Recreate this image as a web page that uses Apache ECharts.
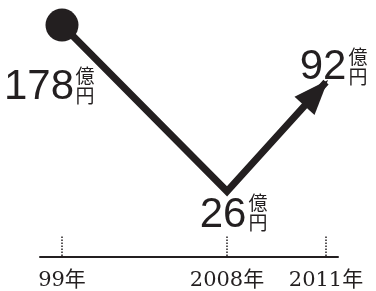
<!DOCTYPE html>
<html lang="ja">
<head>
<meta charset="utf-8" />
<title>売上推移</title>
<style>
  html, body { margin: 0; padding: 0; background: #fff; }
  #chart { width: 376px; height: 291px; }
</style>
</head>
<body>
<div id="chart"></div>
<script src="https://cdn.jsdelivr.net/npm/echarts@6/dist/echarts.min.js"></script>
<script>
// 横軸: 年 (空欄は目盛の間隔合わせ)
const years = ['99年', '', '', '', '', '2008年', '', '', '2011年'];
// 金額 (億円)
const amounts = [178, null, null, null, null, 26, null, null, 92];
const unitText = '億\n円';

const ink = '#231f20';

// ラベル位置 (点からのずれ)
const numOffsets = { 0: [-23, 62], 5: [-4, 24], 8: [-3, -15] };
const unitOffsets = { 0: [23, 61], 5: [31, 21], 8: [32, -15] };
const arrowSize = [27, 35];

const firstIdx = amounts.findIndex(v => v != null);
const minIdx = amounts.indexOf(Math.min.apply(null, amounts.filter(v => v != null)));
const lastIdx = amounts.length - 1;

const chart = echarts.init(document.getElementById('chart'));

function buildLineData(arrow) {
  return amounts.map(function (v, i) {
    if (v == null) return null;
    const item = { value: v, symbol: 'circle', symbolSize: i === firstIdx ? 33 : 0 };
    if (i === lastIdx && arrow) {
      item.symbol = 'triangle';
      item.symbolSize = arrowSize;
      item.symbolRotate = arrow.rotate;
      item.symbolOffset = arrow.offset;
    }
    return item;
  });
}

function buildLabelData(offsets, style) {
  return amounts.map(function (v, i) {
    if (v == null) return null;
    return {
      value: v,
      label: Object.assign({ show: true, position: 'inside', offset: offsets[i], color: ink }, style)
    };
  });
}

chart.setOption({
  animation: false,
  grid: [
    { left: 62, right: 50, top: 15, height: 200 },
    { left: 40, right: 38, bottom: 34, height: 1 }
  ],
  xAxis: [{
    type: 'category',
    data: years,
    boundaryGap: false,
    offset: 42,
    axisLine: { show: false },
    axisTick: {
      show: true,
      inside: true,
      length: 20,
      interval: function (i, v) { return v !== ''; },
      lineStyle: { color: ink, width: 1.5, type: 'dotted' }
    },
    axisLabel: {
      interval: 0,
      margin: 14,
      fontFamily: '"DejaVu Serif", "Noto Sans CJK JP", serif',
      fontSize: 21,
      color: ink
    },
    splitLine: { show: false }
  }, {
    type: 'value',
    gridIndex: 1,
    min: 0,
    max: 1,
    axisLine: { show: true, onZero: false, lineStyle: { color: ink, width: 2 } },
    axisTick: { show: false },
    axisLabel: { show: false },
    splitLine: { show: false }
  }],
  yAxis: [{
    type: 'log',
    min: 20,
    max: 200,
    show: false
  }, {
    type: 'value',
    gridIndex: 1,
    show: false
  }],
  series: [{
    type: 'line',
    data: buildLineData(null),
    connectNulls: true,
    itemStyle: { color: ink },
    lineStyle: { color: ink, width: 7, join: 'miter', cap: 'butt' }
  }, {
    type: 'scatter',
    data: buildLabelData(numOffsets, {
      fontFamily: '"Liberation Sans", Arial, sans-serif',
      fontSize: 42
    }),
    symbolSize: 0,
    itemStyle: { opacity: 1 },
    silent: true
  }, {
    type: 'scatter',
    data: buildLabelData(unitOffsets, {
      formatter: unitText,
      fontFamily: '"Noto Sans CJK JP", sans-serif',
      fontSize: 19,
      lineHeight: 20
    }),
    symbolSize: 0,
    itemStyle: { opacity: 1 },
    silent: true
  }]
});

// 最後の区間の向きに合わせて矢印を置く
const p0 = chart.convertToPixel({ seriesIndex: 0 }, [minIdx, amounts[minIdx]]);
const p1 = chart.convertToPixel({ seriesIndex: 0 }, [lastIdx, amounts[lastIdx]]);
const dx = p1[0] - p0[0];
const dy = p1[1] - p0[1];
const len = Math.sqrt(dx * dx + dy * dy);
const back = arrowSize[1] / 2 - 3;
chart.setOption({
  series: [{
    data: buildLineData({
      rotate: -Math.atan2(dx, -dy) * 180 / Math.PI,
      offset: [-dx / len * back, -dy / len * back]
    })
  }]
});

window.onresize = function () {
  chart.resize();
};
</script>
</body>
</html>
